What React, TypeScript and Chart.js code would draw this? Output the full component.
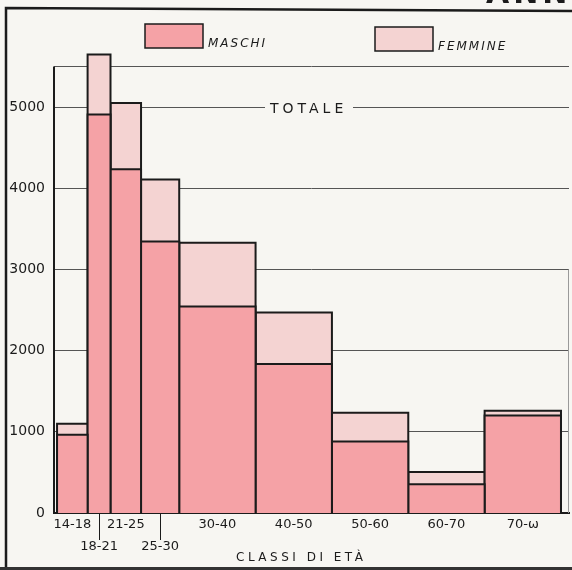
import React, { useEffect, useRef } from 'react';
import { Chart, registerables } from 'chart.js';

Chart.register(...registerables);

// ---- data ----
const classLabels = ['14-18', '18-21', '21-25', '25-30', '30-40', '40-50', '50-60', '60-70', '70-ω'];
const classStart = [14, 18, 21, 25, 30, 40, 50, 60, 70];
const classEnd = [18, 21, 25, 30, 40, 50, 60, 70, 80];
const maschi = [963, 4910, 4235, 3345, 2545, 1835, 880, 355, 1200];
const totale = [1100, 5650, 5050, 4110, 3330, 2470, 1235, 505, 1260];
const yTickValues = [0, 1000, 2000, 3000, 4000, 5000, 5500];
const staggeredIdx = [1, 3];

const MALE = '#f5a2a6';
const FEMALE = '#f4d3d2';
const BG = '#f7f6f2';
const INK = '#1b1b1b';
const FONT = "'DejaVu Sans', sans-serif";

const rect = (x0: number, x1: number, y: number) => [
  { x: x0, y: 0 },
  { x: x0, y },
  { x: x1, y },
  { x: x1, y: 0 },
];

const centers = classStart.map((s, i) => (s + classEnd[i]) / 2);

const decor = {
  id: 'decor',
  beforeDraw(chart: any) {
    const ctx = chart.ctx;
    ctx.save();
    ctx.fillStyle = BG;
    ctx.fillRect(0, 0, chart.width, chart.height);
    ctx.restore();
  },
  beforeDatasetsDraw(chart: any) {
    const ctx = chart.ctx;
    const y = chart.scales.y;
    const yy = y.getPixelForValue(5000) + 2;
    ctx.save();
    ctx.fillStyle = BG;
    ctx.fillRect(265, yy - 7, 88, 14);
    ctx.font = `14px ${FONT}`;
    (ctx as any).letterSpacing = '4px';
    ctx.fillStyle = INK;
    ctx.textAlign = 'left';
    ctx.textBaseline = 'middle';
    ctx.fillText('TOTALE', 270, yy);
    ctx.restore();
  },
  afterDraw(chart: any) {
    const ctx = chart.ctx;
    const xs = chart.scales.x;
    const ys = chart.scales.y;
    const area = chart.chartArea;
    ctx.save();
    // y axis line (0 .. 5500)
    ctx.strokeStyle = INK;
    ctx.lineWidth = 2;
    ctx.beginPath();
    ctx.moveTo(area.left, ys.getPixelForValue(0) + 1);
    ctx.lineTo(area.left, ys.getPixelForValue(5500));
    ctx.stroke();
    // faint right border
    ctx.strokeStyle = '#9a9a9a';
    ctx.lineWidth = 1;
    ctx.beginPath();
    ctx.moveTo(area.right - 0.5, ys.getPixelForValue(3000));
    ctx.lineTo(area.right - 0.5, ys.getPixelForValue(0));
    ctx.stroke();
    // leader lines for staggered labels
    ctx.strokeStyle = INK;
    ctx.lineWidth = 1;
    staggeredIdx.forEach((i) => {
      const px = Math.round(xs.getPixelForValue(centers[i])) + 0.5;
      ctx.beginPath();
      ctx.moveTo(px, area.bottom + 1);
      ctx.lineTo(px, area.bottom + 27);
      ctx.stroke();
    });
    // legend
    const drawKey = (x: number, yTop: number, color: string, label: string) => {
      ctx.fillStyle = color;
      ctx.fillRect(x, yTop, 58, 24);
      ctx.strokeStyle = INK;
      ctx.lineWidth = 1.5;
      ctx.strokeRect(x, yTop, 58, 24);
      ctx.fillStyle = INK;
      ctx.font = `italic 12px ${FONT}`;
      (ctx as any).letterSpacing = '2px';
      ctx.textAlign = 'left';
      ctx.textBaseline = 'middle';
      ctx.fillText(label, x + 63, yTop + 20);
      (ctx as any).letterSpacing = '0px';
    };
    drawKey(145, 24, MALE, 'MASCHI');
    drawKey(375, 27, FEMALE, 'FEMMINE');
    // axis title
    ctx.fillStyle = INK;
    ctx.font = `12px ${FONT}`;
    (ctx as any).letterSpacing = '3.5px';
    ctx.textAlign = 'left';
    ctx.textBaseline = 'middle';
    ctx.fillText('CLASSI DI ETÀ', 236, 558);
    // header fragment
    ctx.font = `bold 30px ${FONT}`;
    (ctx as any).letterSpacing = '4px';
    ctx.textBaseline = 'alphabetic';
    ctx.fillText('ANNO', 486, 3);
    (ctx as any).letterSpacing = '0px';
    // frame
    ctx.strokeStyle = INK;
    ctx.lineWidth = 2.5;
    ctx.beginPath();
    ctx.moveTo(6, 570);
    ctx.lineTo(6, 8);
    ctx.lineTo(572, 11);
    ctx.stroke();
    ctx.strokeStyle = '#333';
    ctx.lineWidth = 3;
    ctx.beginPath();
    ctx.moveTo(0, 568.5);
    ctx.lineTo(572, 568.5);
    ctx.stroke();
    ctx.restore();
  },
};

export default function App() {
  const ref = useRef<HTMLCanvasElement>(null);
  useEffect(() => {
    if (!ref.current) return;
    const barStyle = {
      borderColor: INK,
      borderWidth: 2,
      pointRadius: 0,
      tension: 0,
      fill: 'origin',
      borderJoinStyle: 'miter',
      borderCapStyle: 'butt',
    };
    const maleSets = maschi.map((v, i) => ({
      ...barStyle,
      label: 'Maschi ' + classLabels[i],
      data: rect(classStart[i], classEnd[i], v),
      backgroundColor: MALE,
      order: 0,
    }));
    const totalSets = totale.map((v, i) => ({
      ...barStyle,
      label: 'Totale ' + classLabels[i],
      data: rect(classStart[i], classEnd[i], v),
      backgroundColor: FEMALE,
      order: 1,
    }));
    const chart = new Chart(ref.current, {
      type: 'line',
      data: { datasets: [...maleSets, ...totalSets] as any },
      plugins: [decor],
      options: {
        responsive: false,
        animation: false,
        events: [],
        layout: { padding: { top: 26, right: 3, left: 0, bottom: 0 } },
        plugins: { legend: { display: false }, tooltip: { enabled: false } },
        scales: {
          x: {
            type: 'linear',
            min: 13.6,
            max: 81.05,
            afterBuildTicks: (scale: any) => {
              scale.ticks = centers.map((v) => ({ value: v }));
            },
            afterFit: (scale: any) => {
              scale.height = 57;
            },
            grid: { display: false, drawTicks: false },
            border: { display: true, color: INK, width: 2 },
            ticks: {
              autoSkip: false,
              maxRotation: 0,
              minRotation: 0,
              padding: 1,
              color: INK,
              font: { family: FONT, size: 13, lineHeight: '22px' } as any,
              callback: (_v: any, i: number) =>
                staggeredIdx.includes(i) ? ['', classLabels[i]] : classLabels[i],
            },
          },
          y: {
            type: 'linear',
            min: 0,
            max: 6000,
            afterBuildTicks: (scale: any) => {
              scale.ticks = yTickValues.map((v) => ({ value: v }));
            },
            afterFit: (scale: any) => {
              scale.width = 54;
            },
            grid: {
              drawTicks: false,
              color: (c: any) => (c.tick && c.tick.value === 0 ? INK : '#555'),
              lineWidth: 1,
            },
            border: { display: false },
            ticks: {
              padding: 9,
              color: INK,
              font: { family: FONT, size: 14 },
              callback: (v: any) => (v === 5500 ? '' : String(v)),
            },
          },
        },
      } as any,
    });
    return () => chart.destroy();
  }, []);
  return (
    <div style={{ position: 'fixed', left: 0, top: 0, width: 572, height: 570, background: BG }}>
      <canvas ref={ref} width={572} height={570} style={{ display: 'block' }} />
    </div>
  );
}
